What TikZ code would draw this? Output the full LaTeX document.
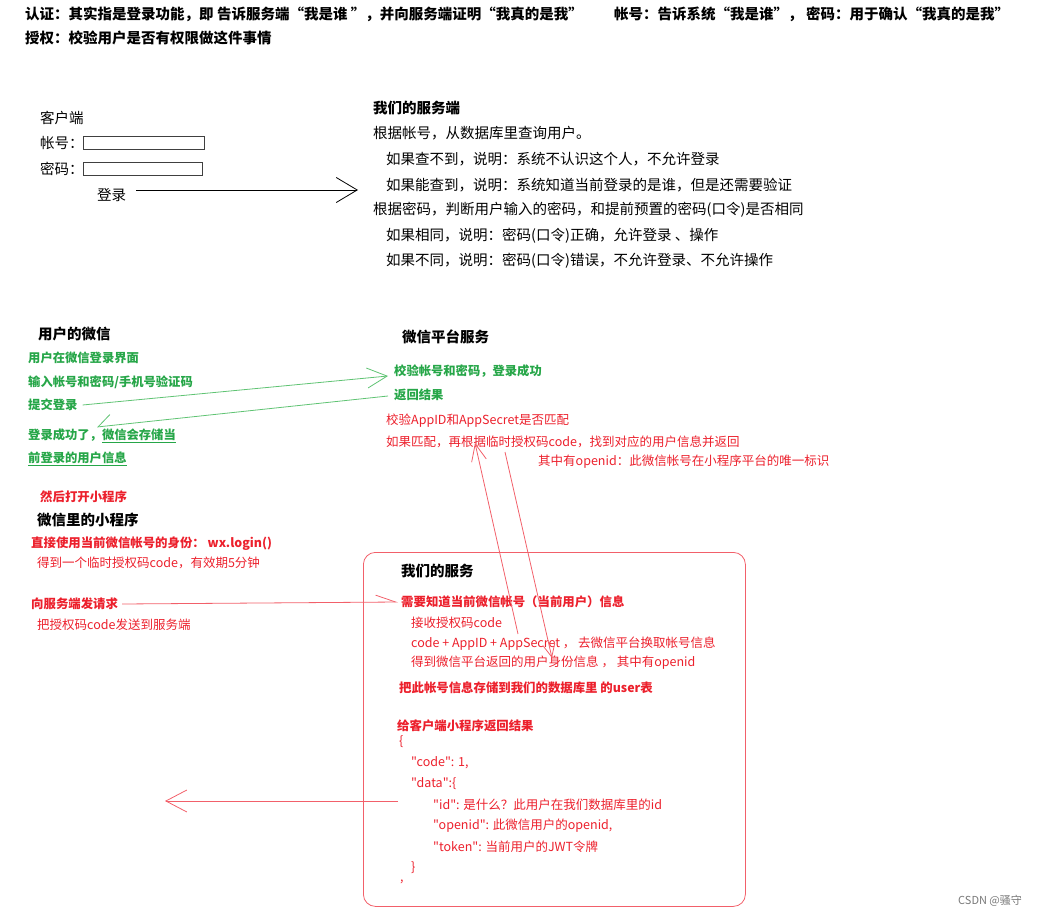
\documentclass[tikz,border=0pt]{standalone}
\usepackage{fontspec}
\setmainfont{Noto Sans CJK SC}[Ligatures=TeXOff]
\usetikzlibrary{arrows.meta,positioning}

\definecolor{wxgreen}{RGB}{38,166,72}
\definecolor{wxline}{RGB}{95,195,115}
\definecolor{svred}{RGB}{236,32,44}
\definecolor{svline}{RGB}{242,96,106}
\definecolor{wmgray}{RGB}{120,120,120}

\begin{document}
\begin{tikzpicture}[
    x=1pt, y=-1pt,
    every node/.style={anchor=west, inner sep=0pt},
    bignote/.style={font=\bfseries\fontsize{14.5}{17}\selectfont},
    head/.style={font=\bfseries\fontsize{14.5}{17}\selectfont},
    note/.style={font=\fontsize{14.5}{17}\selectfont},
    wxtxt/.style={text=wxgreen, font=\bfseries\fontsize{12.3}{15}\selectfont},
    redhead/.style={text=svred, font=\bfseries\fontsize{12.4}{15}\selectfont},
    rednote/.style={text=svred, font=\fontsize{12.5}{15}\selectfont},
    field/.style={draw=black!75, line width=0.6pt, minimum height=13pt},
    arr/.style={line width=0.8pt, -{Straight Barb[length=21pt, width=25pt]}},
    wxarr/.style={arr, draw=wxline},
    redarr/.style={arr, draw=svline},
]
\useasboundingbox (0,0) rectangle (1041,917);

% --- definitions on top ---
\node[bignote] (authn) at (25,14) {认证：其实指是登录功能，即 告诉服务端“我是谁 ”，并向服务端证明“我真的是我”};
\node[bignote] (acct)  at (614,14) {帐号：告诉系统“我是谁”， 密码：用于确认“我真的是我”};
\node[bignote] (authz) at (25,38) {授权：校验用户是否有权限做这件事情};

% --- client form ---
\node[note] (client)  at (40,118) {客户端};
\node[note] (lblacct) at (40,143) {帐号：};
\node[field, minimum width=121pt] (fldacct) at (83,143) {};
\node[note] (lblpwd)  at (40,169) {密码：};
\node[field, minimum width=119pt] (fldpwd) at (83,169) {};
\node[note] (login)   at (97,195) {登录};

% --- our server (password login) ---
\node[head] (server) at (373,108) {我们的服务端};
\node[note] (byacct)  at (373,133) {根据帐号，从数据库里查询用户。};
\node[note] (notfound) at (386,159) {如果查不到，说明：系统不认识这个人，不允许登录};
\node[note] (found)   at (386,185) {如果能查到，说明：系统知道当前登录的是谁，但是还需要验证};
\node[note] (bypwd)   at (373,210) {根据密码，判断用户输入的密码，和提前预置的密码(口令)是否相同};
\node[note] (same)    at (386,236) {如果相同，说明：密码(口令)正确，允许登录 、操作};
\node[note] (diff)    at (386,261) {如果不同，说明：密码(口令)错误，不允许登录、不允许操作};

\coordinate (loginStart) at (136,190);
\coordinate (loginTip)   at (358,190);
\draw[arr] (loginStart) -- (loginTip);

% --- user's wechat ---
\node[head] (wxuser) at (38,334) {用户的微信};
\node[wxtxt] (wxpage)  at (28,358) {用户在微信登录界面};
\node[wxtxt] (wxinput) at (28,382) {输入帐号和密码/手机号验证码};
\node[wxtxt] (submit)  at (28,405) {提交登录};
\node[wxtxt] (wxdone)  at (28,436) {登录成功了，\underline{微信会存储当}};
\node[wxtxt] (wxdone2) at (28,459) {\underline{前登录的用户信息}};

% --- wechat platform ---
\node[head] (platform) at (402,337) {微信平台服务};
\node[wxtxt] (check)  at (394,371) {校验帐号和密码，登录成功};
\node[wxtxt] (result) at (394,395) {返回结果};
\node[rednote] (appid)  at (386,421) {校验AppID和AppSecret是否匹配};
\node[rednote] (match)  at (386,442) {如果匹配，再根据临时授权码code，找到对应的用户信息并返回};
\node[rednote] (openid) at (538,462) {其中有openid：此微信帐号在小程序平台的唯一标识};

\coordinate (wxDoneTip) at (97,427);
\draw[wxarr, -{Straight Barb[length=20pt, width=20pt]}] ([xshift=5pt]submit.east) -- ([shift={(-6,5)}]check.west);
\draw[wxarr, -{Straight Barb[length=13pt, width=22pt, right]}] ([shift={(-6,1)}]result.west) -- (wxDoneTip);

% --- mini program ---
\node[redhead] (openmp) at (40,497) {然后打开小程序};
\node[head] (miniprog) at (37,520) {微信里的小程序};
\node[redhead] (wxlogin) at (31,544) {直接使用当前微信帐号的身份： wx.login()};
\node[rednote] (tmpcode) at (37,563) {得到一个临时授权码code，有效期5分钟};
\node[redhead] (req)     at (31,604) {向服务端发请求};
\node[rednote] (sendcode) at (37,625) {把授权码code发送到服务端};

% --- our service (wechat login) ---
\node[draw=svline, line width=0.8pt, rounded corners=12pt, anchor=north west,
      minimum width=382pt, minimum height=354pt] (ourbox) at (363,552) {};
\node[head] (ours) at (401,571) {我们的服务};
\node[redhead] (need)  at (401,602) {需要知道当前微信帐号（当前用户）信息};
\node[rednote] (recv)  at (411,623) {接收授权码code};
\node[rednote] (swap)  at (411,644) {code + AppID + AppSecret ， 去微信平台换取帐号信息};
\node[rednote] (ident) at (411,663) {得到微信平台返回的用户身份信息 ， 其中有openid};
\node[redhead] (store) at (399,688) {把此帐号信息存储到我们的数据库里 的user表};
\node[redhead] (reply) at (397,726) {给客户端小程序返回结果};
\node[rednote] (jopen)  at (399,742) {\{};
\node[rednote] (jcode)  at (411,763) {"code": 1,};
\node[rednote] (jdata)  at (411,784) {"data":\{};
\node[rednote] (jid)    at (433,805) {"id": 是什么？此用户在我们数据库里的id};
\node[rednote] (jopenid) at (433,826) {"openid": 此微信用户的openid,};
\node[rednote] (jtoken) at (433,847) {"token": 当前用户的JWT令牌};
\node[rednote] (jclose) at (411,868) {\}};
\node[rednote] (jtail)  at (400,882) {,};

% --- red connectors ---
\coordinate (swapUp)    at (518,634);
\coordinate (matchTip)  at (475,443);
\coordinate (matchDown) at (505,452);
\coordinate (identTip)  at (552,658);
\coordinate (replyFrom) at (398,801);
\coordinate (replyTip)  at (165,801);
\draw[redarr, -{Straight Barb[length=17pt, width=15pt]}] (swapUp) -- (matchTip);
\draw[redarr, -{Straight Barb[length=13pt, width=12pt]}] (matchDown) -- (identTip);
\draw[redarr, -{Straight Barb[length=20pt, width=14pt, left]}] ([xshift=4pt]req.east) -- ([xshift=-3pt]need.west);
\draw[redarr, -{Straight Barb[length=21pt, width=22pt]}] (replyFrom) -- (replyTip);

% --- watermark ---
\node[text=wmgray, font=\fontsize{11}{13}\selectfont] (mark) at (958,901) {CSDN @骚守};

\end{tikzpicture}
\end{document}
